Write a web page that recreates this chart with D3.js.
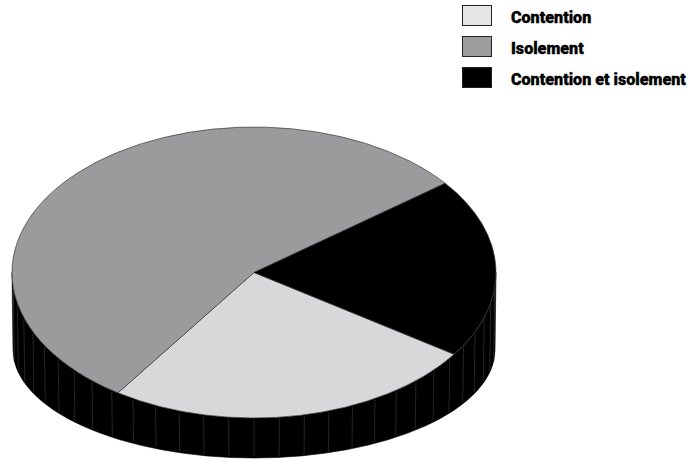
<!DOCTYPE html>
<html>
<head>
<meta charset="utf-8">
<script src="https://cdn.jsdelivr.net/npm/d3@7/dist/d3.min.js"></script>
<style>
  html, body { margin: 0; padding: 0; background: #fff; }
  svg { display: block; }
  .legend text { font-family: "Liberation Sans Narrow", "Arial Narrow", "Roboto", "Liberation Sans", sans-serif; font-weight: 900; }
</style>
</head>
<body>
<svg id="chart" width="691" height="469"></svg>
<script>
// Répartition des mesures (en %)
const categories = ["Contention", "Isolement", "Contention et isolement"];
const values = [25, 55, 20];
const colors = ["#d7d8da", "#9b9b9d", "#000000"];
const swatchColors = ["#e6e6e6", "#9d9d9d", "#000000"];

const svg = d3.select("#chart");

// Top face ellipse and the (perspective) bottom rim of the disc
const topEll = { cx: 254, cy: 272.5, rx: 242, ry: 145.5 };
const botEll = { cx: 254, cy: 350, rx: 241, ry: 108 };

// d3 angles run clockwise from 12 o'clock; convert to ellipse parameter
const startDeg = 124.2;
const pie = d3.pie().sort(null).value(d => d)
  .startAngle(startDeg * Math.PI / 180)
  .endAngle(startDeg * Math.PI / 180 + 2 * Math.PI);
const arcs = pie(values);

const pt = (e, a) => [e.cx + e.rx * Math.cos(a - Math.PI / 2), e.cy + e.ry * Math.sin(a - Math.PI / 2)];

// ---- side wall (front half, from 3 o'clock round to 9 o'clock) ----
const aR = Math.PI / 2, aL = 3 * Math.PI / 2;
const t0 = pt(topEll, aR), t1 = pt(topEll, aL), b1 = pt(botEll, aL), b0 = pt(botEll, aR);
svg.append("path")
  .attr("d", `M${t0}A${topEll.rx},${topEll.ry} 0 0 1 ${t1}L${b1}A${botEll.rx},${botEll.ry} 0 0 0 ${b0}Z`)
  .attr("fill", "#000")
  .attr("stroke", "#000")
  .attr("stroke-width", 0.6);

// facet edges on the wall
const facetAngles = d3.range(aR + Math.PI / 30, aL - 1e-6, Math.PI / 30);
svg.append("g").selectAll("line").data(facetAngles).join("line")
  .attr("x1", a => pt(topEll, a)[0]).attr("y1", a => pt(topEll, a)[1] + 1.5)
  .attr("x2", a => pt(botEll, a)[0]).attr("y2", a => pt(botEll, a)[1] - 1.5)
  .attr("stroke", "#4a4a4a")
  .attr("stroke-width", 0.5);

// ---- top face slices ----
svg.append("g").selectAll("path").data(arcs).join("path")
  .attr("d", d => {
    const p0 = pt(topEll, d.startAngle), p1 = pt(topEll, d.endAngle);
    const large = (d.endAngle - d.startAngle) > Math.PI ? 1 : 0;
    return `M${topEll.cx},${topEll.cy}L${p0}A${topEll.rx},${topEll.ry} 0 ${large} 1 ${p1}Z`;
  })
  .attr("fill", (d, i) => colors[i])
  .attr("stroke", "#3a3a3a")
  .attr("stroke-width", 0.7)
  .attr("stroke-linejoin", "round");

// ---- legend ----
const legend = svg.append("g").attr("class", "legend");
const ly = d3.scalePoint().domain(categories).range([5, 67]);
const items = legend.selectAll("g").data(categories).join("g")
  .attr("transform", d => `translate(462,${ly(d)})`);
items.append("rect")
  .attr("x", 0.5).attr("y", 0.5).attr("width", 29).attr("height", 20)
  .attr("fill", (d, i) => swatchColors[i])
  .attr("stroke", "#222").attr("stroke-width", 1);
const labels = items.append("text")
  .attr("x", 0).attr("y", 0)
  .attr("font-size", 16.5)
  .attr("fill", "#000")
  .attr("stroke", "#000")
  .attr("stroke-width", 0.35)
  .text(d => d);

// condensed look: squeeze labels horizontally so the longest fits the right margin
const widest = d3.max(labels.nodes(), n => n.getComputedTextLength());
const squeeze = Math.min(1, 175 / widest);
labels.attr("transform", `translate(49,17.5) scale(${squeeze},1)`);
</script>
</body>
</html>
